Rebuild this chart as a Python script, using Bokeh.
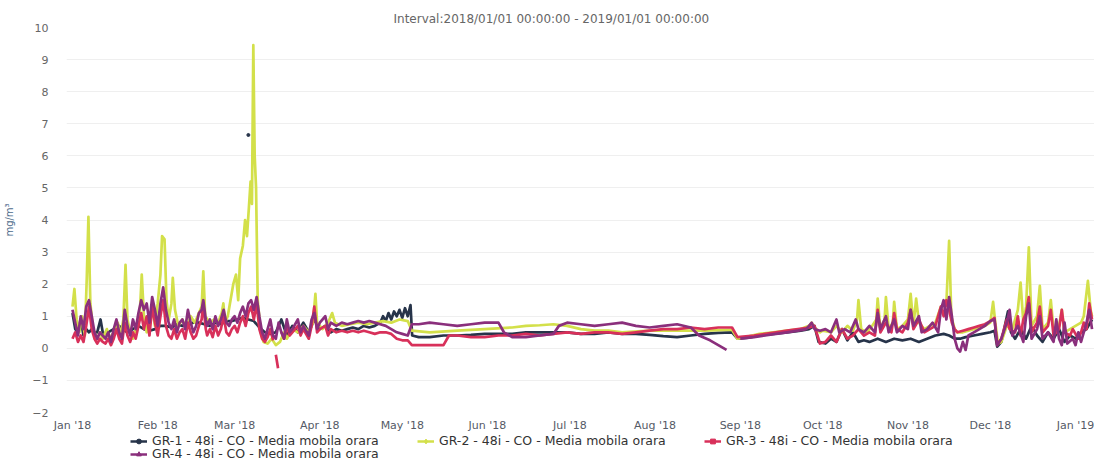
import pandas as pd
from bokeh.plotting import figure
from bokeh.layouts import column
from bokeh.models import (Legend, LegendItem, MonthsTicker, DatetimeTickFormatter,
                          Range1d, SingleIntervalTicker, ColumnDataSource)
from bokeh.embed import file_html
from bokeh.resources import INLINE

nan = float("nan")
START = "2018-01-01"

TITLE = "Interval:2018/01/01 00:00:00 - 2019/01/01 00:00:00"
Y_LABEL = "mg/m³"
NAMES = ["GR-1 - 48i - CO - Media mobila orara",
         "GR-2 - 48i - CO - Media mobila orara",
         "GR-3 - 48i - CO - Media mobila orara",
         "GR-4 - 48i - CO - Media mobila orara"]
COLORS = ["#27344a", "#d3e04a", "#d8305a", "#8a2f7c"]
MARKERS = ["circle", "diamond", "square", "triangle"]
FONT = "DejaVu Sans"

# (day offset from 2018-01-01, mg/m3)
gr1 = [(0,1.1),(1,0.6),(2,0.5),(3,0.9),(4,0.4),(5,0.6),(6,0.5),(7,0.6),(8,0.5),(9,0.5),(10.2,0.9),(11,0.5),
       (12,0.45),(13,0.5),(14,0.55),(15,0.6),(16,0.5),(17,0.7),(18,0.6),(20,0.5),(22,0.6),(24,0.7),(26,0.6),
       (28,0.55),(30,0.6),(32,0.7),(34,0.7),(36,0.65),(38,0.75),(40,0.7),(42,0.75),(44,0.8),(46,0.8),(48,0.75),
       (50,0.7),(52,0.8),(54,0.75),(56,0.85),(58,0.85),(60,0.9),(62,0.95),(64,0.9),(66,0.85),(68,0.65),(70,0.5),
       (72,0.45),(74,0.5),(76,0.9),(78,0.4),(80,0.7),(82,0.5),(84,0.8),(86,0.5),(88,0.9),(90,0.6),(92,0.7),
       (94,0.5),(96,0.6),(98,0.55),(100,0.6),(102,0.65),(104,0.6),(106,0.7),(108,0.65),(110,0.7),(112,0.8),
       (113,1.0),(114,0.85),(115,1.1),(116,0.9),(117,1.15),(118,1.0),(119,1.2),(120,0.95),(121,1.25),(122,1.0),
       (123,1.35),(123.6,0.4),(126,0.35),(130,0.35),(135,0.4),(140,0.4),(145,0.42),(150,0.45),(155,0.45),
       (160,0.45),(165,0.5),(170,0.5),(175,0.5),(180,0.5),(185,0.45),(190,0.45),(195,0.5),(200,0.45),(205,0.45),
       (210,0.42),(215,0.38),(220,0.35),(225,0.4),(230,0.45),(235,0.48),(240,0.5),(242,0.3),(246,0.33),(250,0.4),
       (255,0.45),(260,0.5),(265,0.55),(268,0.6),(270,0.7),(271.5,0.2),(274,0.15),(276,0.3),(278,0.2),(280,0.6),
       (282,0.25),(284,0.5),(286,0.2),(288,0.25),(290,0.2),(293,0.3),(296,0.2),(299,0.3),(302,0.25),(305,0.3),
       (308,0.2),(311,0.3),(314,0.4),(317,0.45),(319,0.4),(321,0.3),(323,0.3),(325,0.35),(328,0.4),(331,0.45),
       (334,0.5),(335.5,0.55),(336.5,0.05),(338,0.2),(340.4,1.15),(341.5,0.5),(343,0.3),(345,0.6),(347,0.3),
       (349,0.7),(351,0.4),(353,0.2),(355,0.5),(357,0.3),(359,0.6),(361,0.2),(363,0.4),(365,0.3),(367,0.5),
       (369,0.6),(371,0.9)]
gr1_dot = [(64,6.65)]

gr2 = [(0,1.3),(0.7,1.85),(1.5,0.9),(2.5,0.5),(3.5,1.0),(4.5,0.4),(5.2,2.2),(5.8,4.1),(6.5,1.4),(7.5,0.6),
       (9,0.3),(10,0.5),(11,0.3),(12.5,0.6),(13.5,0.3),(15,0.5),(16.5,0.8),(17.5,0.4),(18.5,0.9),(19.3,2.6),
       (20,0.9),(21,0.5),(22,0.3),(23,0.6),(24.5,1.1),(25.2,2.3),(26,1.0),(27,0.5),(28,0.8),(29,1.3),(30,0.7),
       (31,1.4),(32,2.3),(32.6,3.5),(33.5,3.4),(34.2,1.5),(35,0.9),(36,1.4),(36.5,2.2),(37.3,1.2),(38.5,0.7),
       (40,0.9),(41.5,0.6),(43,1.0),(44.5,0.8),(46,1.1),(47,1.3),(47.6,2.4),(48.3,1.0),(50,0.8),(51.5,0.9),
       (53,0.8),(54.3,1.1),(54.9,1.4),(55.5,0.8),(56.5,1.0),(57.5,1.5),(58.5,2.0),(59.5,2.3),(60.3,1.5),(61,2.8),
       (62,3.2),(62.8,4.0),(63.5,3.5),(64.2,4.4),(64.8,5.2),(65.3,4.5),(65.8,9.45),(66.3,6.0),(66.8,5.0),
       (67.4,1.5),(68.5,0.5),(69.5,0.2),(71,0.15),(72.5,0.3),(74,0.1),(75.5,0.2),(77,0.5),(78,0.3),(80,0.6),
       (82,0.5),(84,0.7),(86,0.5),(87.5,0.8),(88.4,1.7),(89,0.8),(91,0.6),(93,0.8),(94.5,1.1),(95.5,0.8),
       (98,0.7),(101,0.75),(104,0.8),(107,0.75),(110,0.8),(113,0.85),(116,0.8),(119,0.9),(122,0.85),
       (123.5,0.55),(130,0.5),(140,0.55),(150,0.6),(160,0.65),(165,0.7),(170,0.72),(175,0.75),(180,0.7),
       (185,0.6),(190,0.55),(195,0.55),(200,0.5),(210,0.55),(220,0.55),(230,0.55),(240,0.58),(242,0.3),
       (245,0.35),(250,0.45),(255,0.5),(260,0.55),(265,0.6),(268,0.7),(269,0.8),(270,0.65),(272,0.5),(273,0.55),
       (276,0.5),(278,0.7),(280,0.5),(282,0.7),(284,0.55),(285.5,0.9),(286,1.5),(287,0.6),(289,0.5),(291,0.7),
       (292.5,0.9),(293,1.55),(294,0.6),(295.5,0.9),(296,1.6),(297,0.6),(298.5,0.8),(299,1.45),(300,0.6),
       (302,0.7),(304,0.9),(305,1.7),(306,0.7),(307,1.55),(308,0.8),(310,0.6),(312,0.7),(314,0.8),(316,1.3),
       (318,1.4),(319,3.35),(319.8,1.0),(321,0.6),(322,0.5),(324,0.5),(326,0.55),(328,0.6),(330,0.65),
       (332,0.7),(334,0.8),(335,1.45),(335.8,0.8),(336.8,0.15),(338,0.2),(340,0.7),(342,0.6),(344,1.2),
       (345,2.05),(346,0.8),(347,1.3),(348,3.15),(349,0.7),(351,1.0),(352,1.95),(353,0.6),(355,0.8),(356,1.5),
       (357,0.6),(359,0.7),(360,1.2),(361,0.5),(363,0.6),(365,0.7),(367,0.8),(368,1.0),(369.5,2.1),(370.5,1.2),
       (371,1.0)]

gr3 = [(0,0.3),(1,0.5),(2,0.2),(3,0.4),(4,0.2),(5,0.7),(6,1.3),(7,0.6),(8,0.3),(9,0.15),(10,0.3),(11,0.2),
       (12,0.15),(13,0.3),(14,0.1),(15,0.3),(16,0.6),(17,0.3),(18,0.15),(19,0.8),(20,0.4),(21,0.2),(22,0.5),
       (23,0.3),(24,0.7),(25,1.1),(26,0.6),(27,1.0),(28,0.4),(29,1.3),(30,0.8),(31,0.4),(32,1.0),(33,1.5),
       (34,0.7),(35,0.4),(36,0.3),(37,0.6),(38,0.3),(39,0.5),(40,0.6),(41,0.3),(42,0.8),(43,0.5),(44,0.3),
       (45,0.4),(46,0.7),(47,0.9),(47.6,1.4),(48.5,0.6),(49,0.4),(50,0.6),(51,0.35),(52,0.7),(53,0.4),(54,0.6),
       (55,1.0),(56,0.5),(57,0.4),(58,0.6),(59,0.7),(60,0.5),(61,0.8),(62,1.0),(63,0.7),(64,1.1),(65,1.3),
       (66,0.9),(67,1.4),(68,0.6),(69,0.3),(70,0.2),(71,0.35),(72,0.6),(73,0.25),(73.6,nan),(74.0,-0.2),
       (74.8,-0.62),(75.2,nan),(76,0.5),(77,0.3),(78,0.7),(79,0.4),(80,0.5),(82,0.7),(83,0.4),(84,0.6),(86,0.3),
       (87,0.7),(88,1.3),(89,0.5),(90,0.6),(92,0.7),(93,0.4),(94,0.6),(96,0.5),(98,0.55),(100,0.5),(102,0.55),
       (104,0.5),(106,0.55),(108,0.5),(110,0.45),(112,0.5),(114,0.5),(116,0.45),(118,0.3),(120,0.25),(122,0.25),
       (123.5,0.1),(126,0.1),(130,0.1),(135,0.1),(137,0.4),(140,0.4),(145,0.35),(150,0.35),(155,0.4),(160,0.4),
       (165,0.45),(170,0.4),(175,0.45),(180,0.5),(185,0.45),(190,0.5),(195,0.5),(200,0.45),(205,0.5),(210,0.55),
       (215,0.6),(220,0.6),(225,0.65),(230,0.6),(235,0.65),(240,0.65),(242,0.35),(248,0.4),(252,0.45),(256,0.5),
       (260,0.55),(264,0.6),(268,0.65),(270,0.7),(272,0.15),(274,0.2),(276,0.4),(278,0.2),(280,0.6),(282,0.3),
       (284,0.4),(286,0.6),(288,0.4),(290,0.5),(292,0.4),(293,1.2),(294,0.5),(296,0.8),(298,0.5),(299,1.1),
       (300,0.6),(302,0.5),(304,0.8),(305,1.2),(306,0.6),(308,0.9),(310,0.5),(312,0.6),(314,0.7),(316,1.3),
       (317,1.0),(318,1.5),(319,1.2),(320,0.8),(321,0.6),(322,0.5),(324,0.55),(326,0.6),(328,0.65),(330,0.7),
       (332,0.75),(334,0.85),(335.5,0.95),(336.5,0.1),(338,0.3),(340,0.9),(341,0.6),(343,0.5),(344,1.0),
       (345,0.4),(346,0.9),(347,1.1),(348,1.6),(349,0.5),(351,0.8),(352,1.3),(353,0.5),(355,0.7),(356,1.2),
       (357,0.4),(359,0.6),(360,1.2),(361,0.5),(363,0.4),(364,0.6),(366,0.3),(367,0.5),(368,0.8),(369,0.6),
       (370,1.4),(371,0.9)]

gr4 = [(0,1.2),(1,0.8),(2,0.4),(3,1.0),(4,0.6),(5,1.3),(6,1.5),(7,1.0),(8,0.5),(9,0.3),(10,0.5),(11,0.4),
       (12,0.3),(13,0.5),(14,0.2),(15,0.6),(16,0.9),(17,0.5),(18,0.3),(19,1.2),(20,0.7),(21,0.4),(22,0.9),
       (23,0.6),(24,1.1),(25,1.5),(26,1.2),(27,1.4),(28,0.8),(29,1.6),(30,1.2),(31,0.7),(32,1.4),(33,1.9),
       (34,1.2),(35,0.8),(36,0.6),(37,0.9),(38,0.5),(39,0.8),(40,0.9),(41,0.6),(42,1.2),(43,0.8),(44,0.5),
       (45,0.7),(46,1.1),(47,1.2),(47.6,1.5),(48.5,0.9),(49,0.7),(50,0.9),(51,0.6),(52,1.0),(53,0.7),(54,0.9),
       (55,1.2),(56,0.8),(57,0.7),(58,0.9),(59,1.0),(60,0.8),(61,1.1),(62,1.3),(63,1.0),(64,1.4),(65,1.5),
       (66,1.2),(67,1.6),(68,1.0),(69,0.5),(70,0.3),(71,0.6),(72,0.9),(73,0.4),(74,0.3),(75,0.8),(76,0.5),
       (77,0.3),(78,0.9),(79,0.5),(80,0.6),(82,0.9),(83,0.5),(84,0.7),(86,0.4),(87,0.9),(88,1.1),(89,0.6),
       (90,0.8),(92,1.0),(93,0.6),(94,0.8),(96,0.7),(98,0.8),(100,0.75),(102,0.8),(104,0.85),(106,0.8),
       (108,0.85),(110,0.8),(112,0.75),(114,0.7),(116,0.6),(118,0.5),(120,0.45),(122,0.4),(123.5,0.75),
       (126,0.75),(130,0.8),(135,0.75),(140,0.7),(145,0.75),(150,0.8),(155,0.8),(157,0.5),(160,0.35),(165,0.35),
       (170,0.4),(175,0.45),(177,0.7),(180,0.8),(185,0.75),(190,0.7),(195,0.75),(200,0.8),(205,0.7),(210,0.65),
       (215,0.7),(220,0.75),(225,0.65),(228,0.4),(232,0.25),(235,0.1),(238,-0.05),(239,nan),(243,0.3),
       (248,0.35),(252,0.4),(256,0.45),(260,0.5),(264,0.55),(267,0.6),(269,0.8),(270,0.6),(272,0.55),(274,0.6),
       (276,0.5),(278,0.9),(279,0.5),(281,0.6),(283,0.5),(285,0.9),(286,0.6),(288,0.5),(290,0.7),(292,0.5),
       (293,1.1),(294,0.6),(296,1.0),(297,0.5),(299,0.9),(300,0.5),(302,0.7),(304,0.6),(305,1.2),(306,0.7),
       (308,1.0),(309,0.5),(311,0.6),(313,0.8),(315,0.5),(316,1.2),(317,1.5),(318,0.9),(319,1.6),(320,1.0),
       (321,0.3),(322,0.0),(323,-0.1),(324,0.2),(325,-0.05),(326,0.4),(328,0.5),(330,0.6),(332,0.7),(334,0.85),
       (335.5,0.9),(336.5,0.1),(338,0.3),(340,0.8),(341,1.2),(342,0.4),(344,0.7),(346,0.2),(347,1.0),(348,1.4),
       (349,0.3),(351,0.6),(352,1.0),(353,0.3),(355,0.5),(357,0.2),(358,0.9),(359,0.3),(360,0.1),(361,0.8),
       (362,0.15),(364,0.3),(365,0.1),(366,0.5),(367,0.2),(369,0.8),(370,1.2),(371,0.6)]

SERIES = [gr1, gr2, gr3, gr4]

start = pd.Timestamp(START)


def to_dt(days):
    return [start + pd.Timedelta(days=float(d)) for d in days]


def src(pairs):
    d = [a for a, _ in pairs]
    v = [b for _, b in pairs]
    return ColumnDataSource(data=dict(x=to_dt(d), y=v))


x0 = start + pd.Timedelta(days=-2.18)
x1 = start + pd.Timedelta(days=371.9)

W = 1094
H_MAIN = 434
H_LEG = 27

p = figure(width=W, height=H_MAIN, x_axis_type="datetime", output_backend="svg",
           toolbar_location=None, x_range=Range1d(x0, x1), y_range=Range1d(-2, 10),
           min_border_left=66, min_border_right=0, min_border_top=27, min_border_bottom=0)

p.title.text = TITLE
p.title.align = "left"
p.title.offset = 327
p.title.text_font = FONT
p.title.text_font_size = "12px"
p.title.text_font_style = "normal"
p.title.text_color = "#666666"
p.title.standoff = 4

p.outline_line_color = None
p.background_fill_color = "white"
p.border_fill_color = "white"
p.xgrid.grid_line_color = None
p.ygrid.grid_line_color = "#efefef"

for ax in (p.xaxis, p.yaxis):
    ax.axis_line_color = None
    ax.major_tick_line_color = None
    ax.minor_tick_line_color = None
    ax.major_tick_out = 0
    ax.major_tick_in = 0
    ax.minor_tick_out = 0
    ax.minor_tick_in = 0
    ax.major_label_text_font = FONT
    ax.major_label_text_font_size = "11px"

p.yaxis.ticker = SingleIntervalTicker(interval=1, num_minor_ticks=0)
p.yaxis.major_label_text_color = "#666666"
p.yaxis.major_label_standoff = 18
p.yaxis.axis_label = Y_LABEL
p.yaxis.axis_label_text_font = FONT
p.yaxis.axis_label_text_font_size = "10px"
p.yaxis.axis_label_text_font_style = "normal"
p.yaxis.axis_label_text_color = "#4d6a8a"
p.yaxis.axis_label_standoff = 14

p.xaxis.ticker = MonthsTicker(months=list(range(12)))
p.xaxis.formatter = DatetimeTickFormatter(months="%b '%y", days="%b '%y")
p.xaxis.major_label_text_color = "#555a66"
p.xaxis.major_label_standoff = 6

sources = [src(pairs) for pairs in SERIES]
for s, col in zip(sources, COLORS):
    p.line("x", "y", source=s, line_color=col, line_width=2.7, line_join="round")
p.scatter("x", "y", source=src(gr1_dot), size=3, color=COLORS[0])

# legend strip: same series, drawn with a y range where no data falls, so only the legend shows
pl = figure(width=W, height=H_LEG, output_backend="svg", toolbar_location=None,
            x_range=p.x_range, y_range=Range1d(100, 101),
            x_axis_location=None, y_axis_location=None,
            min_border_left=0, min_border_right=0, min_border_top=0, min_border_bottom=0)
pl.outline_line_color = None
pl.grid.visible = False
pl.background_fill_color = "white"
pl.border_fill_color = "white"

items = []
for s, name, col, mk in zip(sources, NAMES, COLORS, MARKERS):
    r = pl.line("x", "y", source=s, line_color=col, line_width=2.5)
    m = pl.scatter("x", "y", source=s, marker=mk, size=8, fill_color=col, line_color=col)
    items.append(LegendItem(label=name, renderers=[r, m], index=0))

legend_style = dict(orientation="horizontal",
                    label_text_font=FONT, label_text_font_size="12.5px",
                    label_text_color="#333333", glyph_width=17, glyph_height=12,
                    label_height=12, label_standoff=5, label_width=262, spacing=3,
                    padding=0, margin=0, border_line_color=None, background_fill_alpha=0)
legend1 = Legend(items=items[:3], location=(64, 13), **legend_style)
legend2 = Legend(items=items[3:], location=(64, 0), **legend_style)
pl.add_layout(legend1)
pl.add_layout(legend2)

layout = column(p, pl, spacing=0)
open("out.html", "w").write(file_html(layout, INLINE))
